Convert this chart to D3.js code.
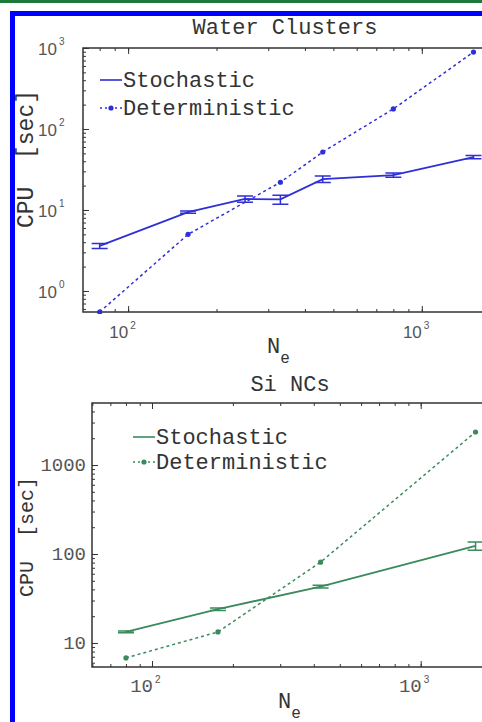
<!DOCTYPE html>
<html>
<head>
<meta charset="utf-8">
<script src="https://cdnjs.cloudflare.com/ajax/libs/d3/7.8.5/d3.min.js"></script>
<style>
body { margin: 0; background: #fff; }
svg { display: block; }
</style>
</head>
<body>
<svg id="svg1" width="482" height="722"></svg>
<script>
// water clusters
var waterStochN = [80, 160, 250, 330, 460, 800, 1500];
var waterStochCPU = [3.6, 9.4, 13.7, 13.5, 24, 27, 45];
var waterStochErr = [0.25, 0.3, 1.2, 1.7, 2.2, 1.6, 2.2];
var waterDetN = [80, 160, 330, 460, 800, 1500];
var waterDetCPU = [0.55, 5.0, 22, 52, 177, 890];

// silicon nanocrystals
var siStochN = [80, 176, 424, 1600];
var siStochCPU = [13.3, 24, 43, 123];
var siStochErr = [0.3, 0.8, 1.5, 13];
var siDetN = [80, 176, 424, 1600];
var siDetCPU = [6.8, 13.3, 81, 2350];

var waterYTicks = [1, 10, 100, 1000];
var waterYLabels = ['0', '1', '2', '3'];
var siYTicks = [10, 100, 1000];
var siYLabels = ['10', '100', '1000'];
var xTicks = [100, 1000];
var xLabels = ['2', '3'];

var svg = d3.select('#svg1');
var mono = "'Liberation Mono', 'DejaVu Sans Mono', monospace";
var sans = "'Liberation Sans', Arial, sans-serif";
var axisColor = '#333';
var labelColor = '#555';

// frame around the figure
svg.append('rect').attr('x', 0).attr('y', 0).attr('width', 482).attr('height', 3).attr('fill', '#1d7a3c');
svg.append('rect').attr('x', 10).attr('y', 11).attr('width', 472).attr('height', 5).attr('fill', '#0000ff');
svg.append('rect').attr('x', 10).attr('y', 11).attr('width', 5).attr('height', 711).attr('fill', '#0000ff');

function minorTicks(domain) {
    var out = [];
    var lo = Math.floor(Math.log10(domain[0]));
    var hi = Math.ceil(Math.log10(domain[1]));
    for (var e = lo; e <= hi; e++) {
        for (var m = 1; m < 10; m++) {
            var v = m * Math.pow(10, e);
            if (v >= domain[0] && v <= domain[1]) out.push(v);
        }
    }
    return out;
}

function drawPanel(p) {
    var x = d3.scaleLog().domain(p.xDomain).range([p.left, p.right]);
    var y = d3.scaleLog().domain(p.yDomain).range([p.bottom, p.top]);
    var g = svg.append('g');

    // box
    g.append('rect')
        .attr('x', p.left).attr('y', p.top)
        .attr('width', p.right - p.left).attr('height', p.bottom - p.top)
        .attr('fill', 'none').attr('stroke', axisColor).attr('stroke-width', 1.5);

    // ticks inward, on all four sides
    var xm = minorTicks(p.xDomain), ym = minorTicks(p.yDomain);
    [[d3.axisBottom(x), p.top, xm, 3], [d3.axisTop(x), p.bottom, xm, 3],
     [d3.axisBottom(x), p.top, p.xTicks, 6], [d3.axisTop(x), p.bottom, p.xTicks, 6]].forEach(function (a) {
        g.append('g').attr('transform', 'translate(0,' + a[1] + ')')
            .call(a[0].tickValues(a[2]).tickSize(a[3]).tickFormat(''))
            .call(function (s) { s.select('.domain').remove(); s.selectAll('line').attr('stroke', axisColor); });
    });
    [[d3.axisRight(y), p.left, ym, 3], [d3.axisRight(y), p.left, p.yTicks, 6],
     [d3.axisLeft(y), p.right, ym, 3], [d3.axisLeft(y), p.right, p.yTicks, 6]].forEach(function (a) {
        g.append('g').attr('transform', 'translate(' + a[1] + ',0)')
            .call(a[0].tickValues(a[2]).tickSize(a[3]).tickFormat(''))
            .call(function (s) { s.select('.domain').remove(); s.selectAll('line').attr('stroke', axisColor); });
    });

    // y tick labels
    p.yTicks.forEach(function (v, i) {
        if (p.powerY) {
            g.append('text').attr('x', p.left - 26).attr('y', y(v) + 7)
                .attr('text-anchor', 'end').attr('font-family', sans).attr('font-size', 17)
                .attr('fill', labelColor).text('10');
            g.append('text').attr('x', p.left - 24).attr('y', y(v) - 3)
                .attr('font-family', sans).attr('font-size', 10).attr('fill', labelColor).text(p.yLabels[i]);
        } else {
            g.append('text').attr('x', p.left - 6).attr('y', y(v) + 6)
                .attr('text-anchor', 'end').attr('font-family', mono).attr('font-size', 19)
                .attr('fill', labelColor).text(p.yLabels[i]);
        }
    });
    // x tick labels
    p.xTicks.forEach(function (v, i) {
        g.append('text').attr('x', x(v) + p.xLabelShift).attr('y', p.xLabelY)
            .attr('text-anchor', 'end').attr('font-family', p.powerY ? sans : mono)
            .attr('font-size', p.powerY ? 17 : 19).attr('fill', labelColor).text('10');
        g.append('text').attr('x', x(v) + p.xLabelShift + 2).attr('y', p.xLabelY - 9)
            .attr('font-family', sans).attr('font-size', 10).attr('fill', labelColor).text(xLabels[i]);
    });

    // titles
    g.append('text').attr('x', p.titleX).attr('y', p.titleY).attr('text-anchor', 'middle')
        .attr('font-family', mono).attr('font-size', p.titleSize).attr('fill', '#333').text(p.title);
    var nl = g.append('text').attr('x', p.nX).attr('y', p.nY)
        .attr('font-family', mono).attr('font-size', 22).attr('fill', '#333');
    nl.append('tspan').text('N');
    nl.append('tspan').attr('dy', 10).attr('font-size', 16).text('e');
    g.append('text').attr('transform', 'translate(33,' + p.cpuY + ') rotate(-90)')
        .attr('text-anchor', 'middle').attr('font-family', mono).attr('font-size', p.cpuSize)
        .style('white-space', 'pre').attr('xml:space', 'preserve')
        .attr('fill', '#333').text('CPU  [sec]');

    var clip = 'clip' + p.id;
    svg.append('clipPath').attr('id', clip).append('rect')
        .attr('x', p.left - 20).attr('y', p.top).attr('width', p.right - p.left + 40).attr('height', p.bottom - p.top + 2);
    var plot = g.append('g').attr('clip-path', 'url(#' + clip + ')');

    var line = d3.line().x(function (d) { return x(d[0]); }).y(function (d) { return y(d[1]); });

    // deterministic
    var det = d3.zip(p.detN, p.detCPU);
    plot.append('path').datum(det).attr('d', line).attr('fill', 'none')
        .attr('stroke', p.color).attr('stroke-width', 1.5).attr('stroke-dasharray', '3,3');
    plot.selectAll('.dot').data(det).enter().append('circle')
        .attr('cx', function (d) { return x(d[0]); }).attr('cy', function (d) { return y(d[1]); })
        .attr('r', 2.6).attr('fill', p.color);

    // stochastic
    var sto = d3.zip(p.stoN, p.stoCPU, p.stoErr);
    plot.append('path').datum(sto).attr('d', line).attr('fill', 'none')
        .attr('stroke', p.color).attr('stroke-width', 1.8);
    sto.forEach(function (d) {
        var cx = x(d[0]), y1 = y(d[1] + d[2]), y2 = y(d[1] - d[2]);
        plot.append('path')
            .attr('d', 'M' + (cx - 8) + ',' + y1 + 'H' + (cx + 8) + 'M' + cx + ',' + y1 + 'V' + y2 + 'M' + (cx - 8) + ',' + y2 + 'H' + (cx + 8))
            .attr('fill', 'none').attr('stroke', p.color).attr('stroke-width', 1.5);
    });

    // legend
    var lx = p.legX, ly = p.legY;
    g.append('line').attr('x1', lx).attr('x2', lx + 22).attr('y1', ly).attr('y2', ly)
        .attr('stroke', p.color).attr('stroke-width', 1.6);
    g.append('text').attr('x', lx + 23).attr('y', ly + 7).attr('font-family', mono)
        .attr('font-size', 22).attr('fill', '#333').text('Stochastic');
    g.append('line').attr('x1', lx).attr('x2', lx + 22).attr('y1', ly + p.legGap).attr('y2', ly + p.legGap)
        .attr('stroke', p.color).attr('stroke-width', 1.4).attr('stroke-dasharray', '2,3');
    g.append('circle').attr('cx', lx + 11).attr('cy', ly + p.legGap).attr('r', 2.6).attr('fill', p.color);
    g.append('text').attr('x', lx + 23).attr('y', ly + p.legGap + 7).attr('font-family', mono)
        .attr('font-size', 22).attr('fill', '#333').text('Deterministic');
}

drawPanel({
    id: 'water', title: 'Water Clusters', titleX: 285, titleY: 34, titleSize: 22,
    left: 83, right: 492, top: 48, bottom: 312,
    xDomain: [70.2, 1734], yDomain: [0.55, 1000],
    xTicks: xTicks, yTicks: waterYTicks, yLabels: waterYLabels, powerY: true,
    xLabelY: 338, xLabelShift: 0, nX: 267, nY: 353, cpuY: 159, cpuSize: 23,
    color: '#2f2fd6',
    stoN: waterStochN, stoCPU: waterStochCPU, stoErr: waterStochErr,
    detN: waterDetN, detCPU: waterDetCPU,
    legX: 100, legY: 80, legGap: 28
});

drawPanel({
    id: 'si', title: 'Si NCs', titleX: 290, titleY: 391, titleSize: 22,
    left: 92, right: 490, top: 403, bottom: 667,
    xDomain: [59.8, 1811], yDomain: [5.37, 4977],
    xTicks: xTicks, yTicks: siYTicks, yLabels: siYLabels, powerY: false,
    xLabelY: 692, xLabelShift: 1, nX: 278, nY: 708, cpuY: 537, cpuSize: 20,
    color: '#3a8a5c',
    stoN: siStochN, stoCPU: siStochCPU, stoErr: siStochErr,
    detN: siDetN, detCPU: siDetCPU,
    legX: 133, legY: 437, legGap: 25
});
</script>
</body>
</html>
